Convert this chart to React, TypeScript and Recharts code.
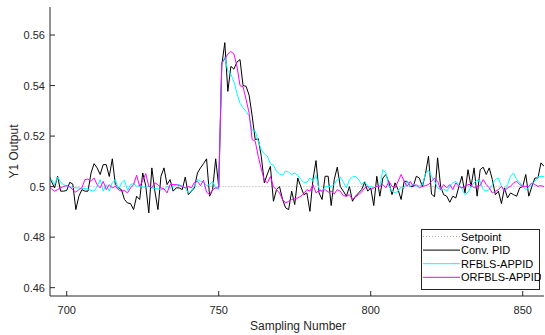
import { LineChart, Line, XAxis, YAxis, Legend, Label } from "recharts";

const AXIS = "#262626";
const FONT = "'Liberation Sans', Arial, Helvetica, sans-serif";

// sampling numbers 694..857
const samples = Array.from({ length: 164 }, (_, i) => 694 + i);

const xTicks = [700, 750, 800, 850];
const yTicks = [0.46, 0.48, 0.5, 0.52, 0.54, 0.56];

const seriesNames = ["Setpoint", "Conv. PID", "RFBLS-APPID", "ORFBLS-APPID"];

const setpoint = samples.map(() => 0.5);

const convPid = [
  0.505,
  0.502, 0.4995, 0.5041, 0.4982, 0.4982, 0.4985, 0.5017, 0.501, 0.4909, 0.4962,
  0.4988, 0.4982, 0.4982, 0.5054, 0.5091, 0.5074, 0.5048, 0.5087, 0.5087, 0.504,
  0.511, 0.5008, 0.4995, 0.4988, 0.4949, 0.4935, 0.4933, 0.4909, 0.4962, 0.4949,
  0.5054, 0.5003, 0.4896, 0.5074, 0.4982, 0.4909, 0.5041, 0.5074, 0.5008, 0.5028,
  0.4982, 0.4995, 0.4995, 0.4988, 0.5038, 0.4968, 0.4982, 0.4995, 0.5054, 0.5074,
  0.5091, 0.511, 0.4962, 0.4988, 0.511, 0.5,
  0.548, 0.557, 0.5377, 0.5476, 0.5465, 0.5493, 0.5503, 0.54, 0.5397, 0.5362,
  0.528, 0.5186, 0.519, 0.512, 0.5015, 0.505, 0.508, 0.4942, 0.4988, 0.5,
  0.4949, 0.4916, 0.4909, 0.4982, 0.4929, 0.5034, 0.5, 0.4968, 0.4975, 0.4902,
  0.5028, 0.5103, 0.4975, 0.4949, 0.5041, 0.5041, 0.4925, 0.5028, 0.5077, 0.5,
  0.4982, 0.4962, 0.5, 0.4942, 0.4962, 0.4975, 0.4988, 0.5017, 0.4982, 0.4995,
  0.4925, 0.5041, 0.4962,
  0.5034, 0.5048, 0.5015, 0.4968, 0.5015, 0.4988, 0.4949, 0.5021, 0.5021, 0.5,
  0.5, 0.5041, 0.5034, 0.5, 0.505, 0.512, 0.497, 0.496, 0.5114, 0.5,
  0.4968, 0.4962, 0.4938, 0.4962, 0.4955, 0.5, 0.5041, 0.4975, 0.5067, 0.5,
  0.5074, 0.4962, 0.5067, 0.5077, 0.5048, 0.5074, 0.5028, 0.4968, 0.4982, 0.4933,
  0.4995, 0.4955, 0.4975, 0.4968, 0.4962, 0.4995, 0.5, 0.5048, 0.4962, 0.5,
  0.5034, 0.5034, 0.5094, 0.508,
];

const rfbls = [
  0.503,
  0.5028, 0.5008, 0.5038, 0.5017, 0.5008, 0.5001, 0.4999, 0.4997, 0.4995, 0.4995,
  0.4993, 0.4993, 0.4991, 0.4985, 0.4982, 0.5001, 0.5028, 0.4982, 0.5008, 0.4982,
  0.5017, 0.5028, 0.4988, 0.5015, 0.5025, 0.4985, 0.5008, 0.5012, 0.5001, 0.5004,
  0.4999, 0.4997, 0.5001, 0.4995, 0.4993, 0.4991, 0.4988, 0.4988, 0.5001, 0.4993,
  0.5001, 0.5007, 0.5008, 0.5001, 0.4995, 0.4975, 0.4985, 0.5001, 0.5028, 0.5021,
  0.5017, 0.5004, 0.5008, 0.5021, 0.4995, 0.4988,
  0.548, 0.5514, 0.5457, 0.5445, 0.5415, 0.537, 0.533, 0.5312, 0.5298, 0.528,
  0.5222, 0.522, 0.518, 0.5145, 0.513, 0.512, 0.509, 0.5085, 0.506, 0.505,
  0.5045, 0.5062, 0.5057, 0.5048, 0.5054, 0.5044, 0.5028, 0.5017, 0.5017, 0.5034,
  0.5021, 0.5045, 0.4991, 0.4982, 0.4999, 0.5001, 0.5001, 0.5008, 0.5028, 0.5038,
  0.5017, 0.4995, 0.5028, 0.5038, 0.5041, 0.5028, 0.5008, 0.5021, 0.5001, 0.5001,
  0.4995, 0.5001, 0.5001,
  0.5067, 0.5054, 0.5001, 0.4982, 0.4975, 0.4982, 0.4999, 0.4995, 0.5021, 0.5001,
  0.5008, 0.5001, 0.5004, 0.5008, 0.5051, 0.5065, 0.5041, 0.5021, 0.4995, 0.4988,
  0.4991, 0.4982, 0.5001, 0.5015, 0.5021, 0.5008, 0.4991, 0.4968, 0.4978, 0.5001,
  0.5015, 0.5025, 0.5021, 0.4988, 0.4982, 0.4988, 0.5008, 0.5028, 0.5034, 0.5001,
  0.4982, 0.5008, 0.5041, 0.5054, 0.5028, 0.5017, 0.5001, 0.4988, 0.4995, 0.5008,
  0.5021, 0.5038, 0.5041, 0.504,
];

const orfbls = [
  0.5,
  0.4991, 0.4982, 0.4988, 0.4995, 0.5001, 0.5004, 0.4999, 0.4988, 0.4978, 0.4988,
  0.4995, 0.5028, 0.503, 0.5021, 0.5034, 0.5008, 0.4995, 0.5021, 0.4988, 0.5008,
  0.4995, 0.5001, 0.4988, 0.4982, 0.4985, 0.4975, 0.4995, 0.5008, 0.5045, 0.5001,
  0.5024, 0.5051, 0.5001, 0.4995, 0.5015, 0.5008, 0.4995, 0.4991, 0.4975, 0.5008,
  0.5008, 0.5008, 0.5004, 0.5001, 0.4995, 0.5001, 0.4995, 0.5017, 0.5021, 0.5004,
  0.5025, 0.4978, 0.4968, 0.4988, 0.4995, 0.4995,
  0.549, 0.5505, 0.5525, 0.5535, 0.5525, 0.5477, 0.54, 0.5395, 0.5345, 0.5292,
  0.5186, 0.518, 0.512, 0.507, 0.5025, 0.5015, 0.504, 0.5, 0.4988, 0.4975,
  0.4949, 0.4935, 0.4942, 0.4949, 0.4952, 0.4955, 0.4962, 0.4972, 0.4988, 0.4982,
  0.5008, 0.4975, 0.4985, 0.4982, 0.4988, 0.4978, 0.4982, 0.4971, 0.4988, 0.4982,
  0.4964, 0.4962, 0.4968, 0.4949, 0.4959, 0.4968, 0.4978, 0.4995, 0.5001, 0.4988,
  0.4995, 0.5001, 0.5001,
  0.5008, 0.4995, 0.5021, 0.5001, 0.4995, 0.5021, 0.5048, 0.5021, 0.5001, 0.5021,
  0.5001, 0.5008, 0.4995, 0.5001, 0.5004, 0.5008, 0.5021, 0.5034, 0.5021, 0.4988,
  0.5008, 0.4995, 0.5008, 0.4988, 0.5015, 0.5001, 0.4995, 0.5001, 0.5008, 0.5008,
  0.4995, 0.5001, 0.5004, 0.5028, 0.5008, 0.4995, 0.4975, 0.4982, 0.4988, 0.5001,
  0.4982, 0.4995, 0.5001, 0.5015, 0.5021, 0.5008, 0.5001, 0.5001, 0.5001, 0.5015,
  0.5008, 0.5001, 0.5004, 0.5,
];

const data = samples.map((n, i) => ({
  n,
  setpoint: setpoint[i],
  conv: convPid[i],
  rf: rfbls[i],
  orf: orfbls[i],
}));

const legendStyles = [
  { color: "#a8a8a8", dash: "1 2" },
  { color: "#000000", dash: undefined },
  { color: "#00ffff", dash: undefined },
  { color: "#ff00ff", dash: undefined },
];

const BottomTick = (props: any) => {
  const { x, y, payload } = props;
  return (
    <g>
      <line x1={x} y1={y} x2={x} y2={y - 5} stroke={AXIS} />
      <text x={x} y={y + 17.5} textAnchor="middle" fontSize={11} fill={AXIS} fontFamily={FONT}>
        {payload.value}
      </text>
    </g>
  );
};

const TopTick = (props: any) => {
  const { x, y } = props;
  return <line x1={x} y1={y} x2={x} y2={y + 5} stroke={AXIS} />;
};

const LeftTick = (props: any) => {
  const { x, y, payload } = props;
  return (
    <g>
      <line x1={x} y1={y} x2={x + 5} y2={y} stroke={AXIS} />
      <text x={x - 5} y={y + 4} textAnchor="end" fontSize={11} fill={AXIS} fontFamily={FONT}>
        {String(payload.value)}
      </text>
    </g>
  );
};

const RightTick = (props: any) => {
  const { x, y } = props;
  return <line x1={x} y1={y} x2={x - 5} y2={y} stroke={AXIS} />;
};

const LegendBox = () => (
  <svg width={120} height={62} style={{ display: "block" }}>
    <rect x={0.5} y={0.5} width={118} height={60} fill="#fff" stroke={AXIS} />
    {seriesNames.map((name, i) => {
      const yy = 7.5 + i * 13.6;
      return (
        <g key={name}>
          <line
            x1={2}
            x2={39}
            y1={yy}
            y2={yy}
            stroke={legendStyles[i].color}
            strokeDasharray={legendStyles[i].dash}
          />
          <text x={40} y={yy + 4} fontSize={11} fontFamily={FONT} fill="#000">
            {name}
          </text>
        </g>
      );
    })}
  </svg>
);

export default function App() {
  return (
    <div style={{ position: "absolute", left: 0, top: 0, width: 545, height: 335, background: "#fff" }}>
      <LineChart width={545} height={335} data={data} margin={{ top: 7, right: 1, left: 0, bottom: 0 }}>
        <XAxis
          dataKey="n"
          type="number"
          domain={[694.5, 857]}
          allowDataOverflow
          ticks={xTicks}
          height={39}
          tickSize={0}
          tickMargin={0}
          tick={BottomTick}
          axisLine={{ stroke: AXIS }}
          tickLine={false}
        >
          <Label
            content={() => (
              <text x={298} y={329.5} textAnchor="middle" fontSize={12} fill={AXIS} fontFamily={FONT}>
                Sampling Number
              </text>
            )}
          />
        </XAxis>
        <XAxis
          xAxisId="top"
          orientation="top"
          dataKey="n"
          type="number"
          domain={[694.5, 857]}
          allowDataOverflow
          ticks={xTicks}
          height={0}
          tickSize={0}
          tickMargin={0}
          tick={TopTick}
          axisLine={{ stroke: AXIS }}
          tickLine={false}
        />
        <YAxis
          type="number"
          domain={[0.4567, 0.5711]}
          allowDataOverflow
          ticks={yTicks}
          width={50}
          tickSize={0}
          tickMargin={0}
          tick={LeftTick}
          axisLine={{ stroke: AXIS }}
          tickLine={false}
        >
          <Label
            content={() => (
              <text
                transform="translate(17.5,151.5) rotate(-90)"
                textAnchor="middle"
                fontSize={12}
                fill={AXIS}
                fontFamily={FONT}
              >
                Y1 Output
              </text>
            )}
          />
        </YAxis>
        <YAxis
          yAxisId="right"
          orientation="right"
          type="number"
          domain={[0.4567, 0.5711]}
          allowDataOverflow
          ticks={yTicks}
          width={0}
          tickSize={0}
          tickMargin={0}
          tick={RightTick}
          axisLine={{ stroke: AXIS }}
          tickLine={false}
        />
        <Legend
          layout="vertical"
          align="center"
          verticalAlign="middle"
          content={LegendBox}
          wrapperStyle={{ position: "absolute", left: 421, top: 229, width: 120, height: 62 }}
        />
        <Line
          dataKey="setpoint"
          name={seriesNames[0]}
          stroke="#a8a8a8"
          strokeDasharray="1 2"
          strokeWidth={1}
          dot={false}
          isAnimationActive={false}
        />
        <Line
          dataKey="conv"
          name={seriesNames[1]}
          stroke="#000000"
          strokeWidth={1}
          dot={false}
          isAnimationActive={false}
        />
        <Line
          dataKey="rf"
          name={seriesNames[2]}
          stroke="#00ffff"
          strokeWidth={1}
          dot={false}
          isAnimationActive={false}
        />
        <Line
          dataKey="orf"
          name={seriesNames[3]}
          stroke="#ff00ff"
          strokeWidth={1}
          dot={false}
          isAnimationActive={false}
        />
      </LineChart>
    </div>
  );
}
